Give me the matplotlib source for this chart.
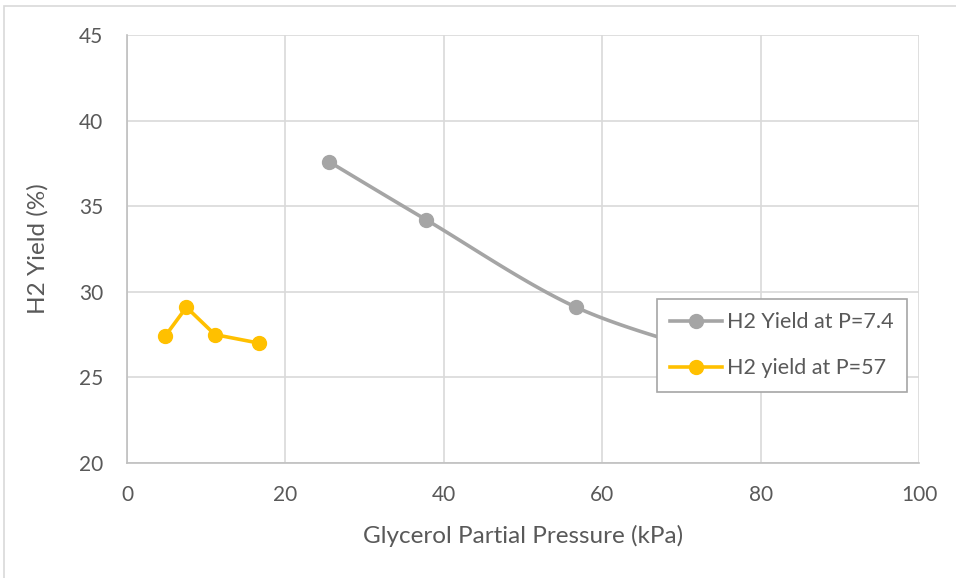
import numpy as np
import matplotlib.pyplot as plt
from matplotlib.patches import Rectangle

# H2 yield vs glycerol partial pressure, two total pressures
p_low_x = [25.5, 37.8, 56.7, 75.5]
p_low_y = [37.6, 34.2, 29.1, 26.2]
p_high_x = [4.8, 7.5, 11.1, 16.7]
p_high_y = [27.4, 29.1, 27.5, 27.0]

gray = "#a5a5a5"
gold = "#ffc000"
text_col = "#595959"
grid_col = "#d9d9d9"

plt.rcParams["font.family"] = ["Lato", "DejaVu Sans"]


def smooth(xs, ys, xr=100.0, yr=25.0, n=30):
    """Excel-style smoothed line: Catmull-Rom through the points as Bezier segments."""
    pts = np.column_stack([np.asarray(xs) / xr, np.asarray(ys) / yr])
    pts = np.vstack([pts[0], pts, pts[-1]])
    out = []
    t = np.linspace(0, 1, n)[:, None]
    for i in range(1, len(pts) - 2):
        p0, p1, p2, p3 = pts[i - 1], pts[i], pts[i + 1], pts[i + 2]
        b1 = p1 + (p2 - p0) / 6
        b2 = p2 - (p3 - p1) / 6
        seg = ((1 - t) ** 3) * p1 + 3 * ((1 - t) ** 2) * t * b1 + 3 * (1 - t) * t ** 2 * b2 + t ** 3 * p2
        out.append(seg)
    curve = np.vstack(out)
    return curve[:, 0] * xr, curve[:, 1] * yr


fig = plt.figure(figsize=(9.56, 5.78), dpi=100)
ax = fig.add_axes([127 / 956, 1 - 463 / 578, 792 / 956, 428 / 578])

# outer chart-area border
fig.patches.append(Rectangle((4 / 956, -0.01), 1.0, 1 - 6 / 578 + 0.01,
                             transform=fig.transFigure, fill=False,
                             edgecolor=grid_col, linewidth=1.2))

sx, sy = smooth(p_low_x, p_low_y)
ax.plot(sx, sy, color=gray, linewidth=2.6, solid_capstyle="round", zorder=3)
ax.plot(p_low_x, p_low_y, "o", color=gray, markersize=10, zorder=4)
ax.plot([], [], color=gray, linewidth=2.6, marker="o", markersize=10,
        label="H2 Yield at P=7.4")

ax.plot(p_high_x, p_high_y, color=gold, linewidth=2.6, marker="o",
        markersize=10, zorder=4, label="H2 yield at P=57")

ax.set_xlim(0, 100)
ax.set_ylim(20, 45)
ax.set_xticks(np.arange(0, 101, 20))
ax.set_yticks(np.arange(20, 46, 5))
ax.grid(True, color=grid_col, linewidth=1.2)
ax.set_axisbelow(True)
ax.tick_params(length=0, labelsize=15, labelcolor=text_col)
ax.tick_params(axis="x", pad=16)
ax.tick_params(axis="y", pad=17)
for side in ["top", "right"]:
    ax.spines[side].set_visible(False)
for side in ["left", "bottom"]:
    ax.spines[side].set_color("#bfbfbf")
    ax.spines[side].set_linewidth(1.2)

ax.set_xlabel("Glycerol Partial Pressure (kPa)", fontsize=17.5, color=text_col, labelpad=14)
ax.set_ylabel("H2 Yield (%)", fontsize=17.5, color=text_col, labelpad=22)

leg = ax.legend(loc="upper left", bbox_to_anchor=(530 / 792, (463 - 299) / 428),
                fontsize=15.5, frameon=True, fancybox=False, framealpha=1,
                borderpad=0.62, labelspacing=1.2, handlelength=2.4,
                handletextpad=0.25, borderaxespad=0, labelcolor=text_col)
leg.get_frame().set_edgecolor("#a6a6a6")
leg.get_frame().set_linewidth(1.2)
leg.set_zorder(5)

fig.savefig("out.png", dpi=100)
